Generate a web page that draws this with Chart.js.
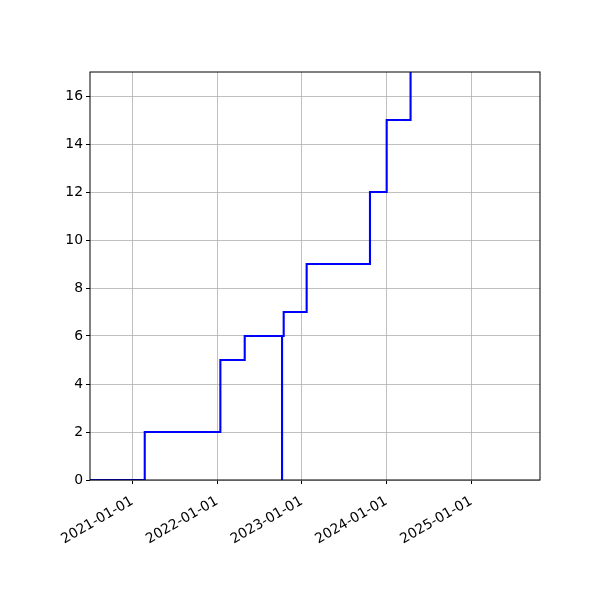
<!DOCTYPE html>
<html>
<head>
<meta charset="utf-8">
<script src="https://cdn.jsdelivr.net/npm/chart.js@4/dist/chart.umd.min.js"></script>
<style>
  html, body { margin: 0; padding: 0; background: #fff; }
  #wrap { width: 600px; height: 600px; }
</style>
</head>
<body>
<div id="wrap"><canvas id="chart" width="600" height="600"></canvas></div>
<script>
// step dates and the running count reached at each date
const stepDates = ["2020-06-01", "2021-02-23", "2022-01-15", "2022-04-30", "2022-10-08", "2022-10-08", "2022-10-15", "2023-01-22", "2023-10-22", "2024-01-02", "2024-04-14"];
const stepValues = [0, 2, 5, 6, 0, 6, 7, 9, 12, 15, 18];

const xTickLabels = ["2021-01-01", "2022-01-01", "2023-01-01", "2024-01-01", "2025-01-01"];
const yTicks = [0, 2, 4, 6, 8, 10, 12, 14, 16];
const xRange = ["2020-07-02", "2025-10-24"];
const yRange = [0, 17];

const toMs = s => Date.parse(s + "T00:00:00Z");
const fmt = ms => new Date(ms).toISOString().slice(0, 10);

const points = stepDates.map((d, i) => ({ x: toMs(d), y: stepValues[i] }));

// matplotlib-like closed frame around the plot area
const frame = {
  id: "frame",
  afterDatasetsDraw(chart) {
    const { ctx, chartArea: a } = chart;
    ctx.save();
    ctx.strokeStyle = "#000";
    ctx.lineWidth = 1;
    ctx.strokeRect(a.left, a.top, a.right - a.left, a.bottom - a.top);
    ctx.restore();
  }
};

Chart.defaults.font.family = "'DejaVu Sans', sans-serif";
Chart.defaults.font.size = 13.9;
Chart.defaults.color = "#000";

new Chart(document.getElementById("chart"), {
  type: "line",
  data: {
    datasets: [{
      data: points,
      borderColor: "#0000ff",
      borderWidth: 2.1,
      pointRadius: 0,
      stepped: "before",
      fill: false
    }]
  },
  options: {
    responsive: false,
    animation: false,
    devicePixelRatio: 1,
    layout: { padding: { left: 0, top: 72, right: 60, bottom: 0 } },
    plugins: { legend: { display: false }, tooltip: { enabled: false } },
    scales: {
      x: {
        type: "linear",
        min: toMs(xRange[0]),
        max: toMs(xRange[1]),
        afterBuildTicks: s => { s.ticks = xTickLabels.map(t => ({ value: toMs(t) })); },
        afterFit: s => { s.height = 120; },
        ticks: {
          callback: v => fmt(v),
          minRotation: 30,
          maxRotation: 30,
          padding: 9
        },
        grid: { color: "#b0b0b0", lineWidth: 0.8, tickColor: "#000", tickLength: 4, tickWidth: 1 },
        border: { display: false }
      },
      y: {
        min: yRange[0],
        max: yRange[1],
        afterBuildTicks: s => { s.ticks = yTicks.map(v => ({ value: v })); },
        afterFit: s => { s.width = 90; },
        ticks: { padding: 3 },
        grid: { color: "#b0b0b0", lineWidth: 0.8, tickColor: "#000", tickLength: 4, tickWidth: 1 },
        border: { display: false }
      }
    }
  },
  plugins: [frame]
});
</script>
</body>
</html>
